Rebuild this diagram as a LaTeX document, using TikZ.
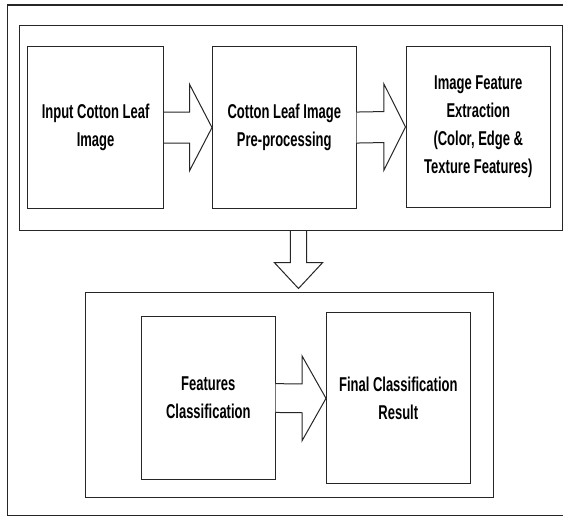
\documentclass[tikz,border=0pt]{standalone}
\usepackage{fontspec}
\newfontfamily\narrowbold[FakeStretch=0.65]{Liberation Sans Bold}
\usetikzlibrary{calc}

\tikzset{
  frame/.style={draw=black!85, line width=1.1pt},
  stage/.style={draw=black!85, line width=1.1pt, fill=white, anchor=north west,
    inner sep=0pt, align=center, font=\narrowbold\fontsize{20}{28}\selectfont},
  blockarrow/.style={draw=black!85, line width=1pt, fill=white, line join=miter},
}

% draws a hollow block arrow from the east side of #1 to the west side of #2
\newcommand{\hblock}[5]{%
  % #1 from node, #2 to node, #3 head length, #4 shaft half-height, #5 head half-height
  \draw[blockarrow] ($(#1.east)+(0,-#4)$) -- ($(#2.west)+(-#3,-#4)$)
    -- ($(#2.west)+(-#3,-#5)$) -- (#2.west) -- ($(#2.west)+(-#3,#5)$)
    -- ($(#2.west)+(-#3,#4)$) -- ($(#1.east)+(0,#4)$);
}

\begin{document}
\begin{tikzpicture}[x=1pt, y=-1pt]
  \useasboundingbox (0,0) rectangle (563,517);
  \fill[white] (0,0) rectangle (563,517);

  % outer frame and the two stage groups
  \draw[frame] (7.5,5) rectangle (570,515.5);
  \node[frame, anchor=north west, minimum width=543pt, minimum height=205pt, inner sep=0pt]
    (grpA) at (19,25) {};
  \node[frame, anchor=north west, minimum width=407.5pt, minimum height=205pt, inner sep=0pt]
    (grpB) at (85,291.5) {};

  % upper row
  \node[stage, minimum width=136pt, minimum height=162pt] (input) at (27,46)
    {Input Cotton Leaf\\Image};
  \node[stage, minimum width=143.5pt, minimum height=162pt] (pre) at (212,46)
    {Cotton Leaf Image\\Pre-processing};
  \node[stage, minimum width=144.5pt, minimum height=161pt] (feat) at (405.5,46)
    {Image Feature\\Extraction\\(Color, Edge \&\\Texture Features)};

  % lower row
  \node[stage, minimum width=133.5pt, minimum height=163pt] (cls) at (141,316)
    {Features\\Classification};
  \node[stage, minimum width=143.5pt, minimum height=171pt] (res) at (326,312.3)
    {Final Classification\\Result};

  % horizontal block arrows
  \hblock{input}{pre}{22.5}{15.5}{43.3}
  \hblock{pre}{feat}{21.7}{15.5}{43.3}
  \hblock{cls}{res}{24}{14.4}{42.5}

  % downward block arrow between the groups
  \coordinate (tip) at (298.5,288.5);
  \draw[blockarrow] ($(tip |- grpA.south)+(-8.2,0)$) -- ($(tip)+(-8.2,-26)$)
    -- ($(tip)+(-24.2,-26)$) -- (tip) -- ($(tip)+(24.2,-26)$)
    -- ($(tip)+(8.2,-26)$) -- ($(tip |- grpA.south)+(8.2,0)$);
\end{tikzpicture}
\end{document}
